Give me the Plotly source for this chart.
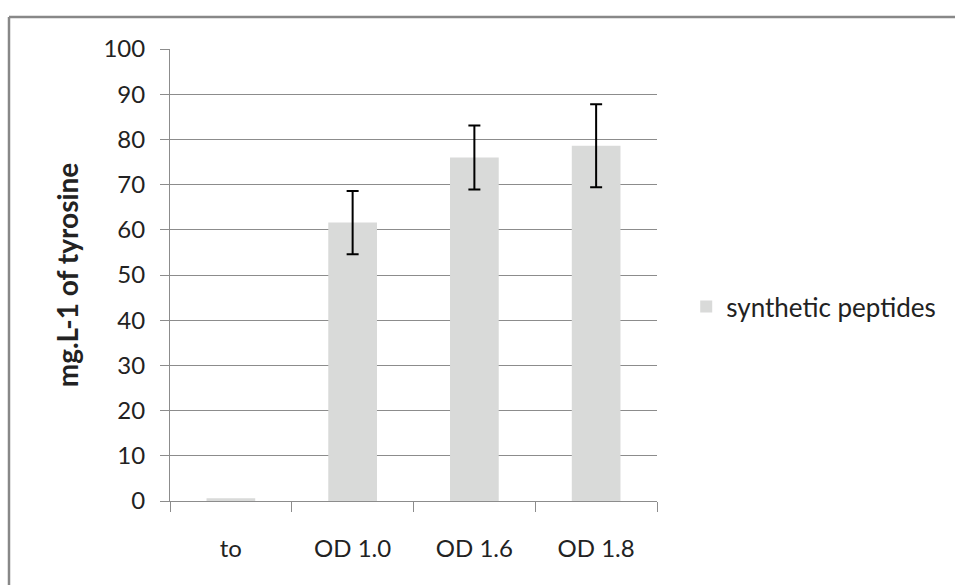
import plotly.graph_objects as go

categories = ['to', 'OD 1.0', 'OD 1.6', 'OD 1.8']
tyrosine = [0.6, 61.6, 76.0, 78.6]
tyrosine_err = [None, 7.0, 7.1, 9.2]
series_name = 'synthetic peptides'

FONT = 'Lato, Carlito, Calibri, sans-serif'
GRID = '#8c8c8c'
FRAME = '#888888'

fig = go.Figure()

fig.add_trace(go.Bar(
    x=categories,
    y=tyrosine,
    name=series_name,
    marker=dict(color='#d9dad9', line=dict(width=0)),
))

# error bars only where a value exists ('to' has none)
has_err = [i for i, e in enumerate(tyrosine_err) if e is not None]
fig.add_trace(go.Scatter(
    x=[categories[i] for i in has_err],
    y=[tyrosine[i] for i in has_err],
    mode='markers',
    marker=dict(size=1, opacity=0),
    error_y=dict(type='data', array=[tyrosine_err[i] for i in has_err],
                 visible=True, color='black', thickness=2, width=6),
    showlegend=False, hoverinfo='skip',
))

fig.update_layout(
    width=955, height=585,
    margin=dict(l=170, r=298, t=49, b=84, autoexpand=False),
    paper_bgcolor='white', plot_bgcolor='white',
    bargap=0.6,
    showlegend=True,
    font=dict(family=FONT, size=24, color='#222222'),
    legend=dict(x=1.06, y=0.43, xanchor='left', yanchor='middle',
                font=dict(size=26), bgcolor='rgba(0,0,0,0)'),
    # chart frame: only its left and top edges fall inside the picture
    shapes=[
        dict(type='line', xref='paper', yref='paper',
             x0=-0.3306, x1=-0.3306, y0=-0.3, y1=1.0708,
             line=dict(color=FRAME, width=2.5)),
        dict(type='line', xref='paper', yref='paper',
             x0=-0.3306, x1=1.8, y0=1.0708, y1=1.0708,
             line=dict(color=FRAME, width=2.5)),
    ],
)

fig.update_xaxes(
    showline=True, linecolor=GRID, linewidth=1,
    ticks='outside', tickson='boundaries', ticklen=10, tickcolor=GRID,
    showgrid=False, tickfont=dict(size=24), ticklabelstandoff=26,
)

fig.update_yaxes(
    range=[0, 100], dtick=10,
    showline=True, linecolor=GRID, linewidth=1,
    ticks='outside', ticklen=9, tickcolor=GRID,
    showgrid=True, gridcolor=GRID, gridwidth=1,
    zeroline=False, tickfont=dict(size=24), ticklabelstandoff=10,
    title=dict(text='<b>mg.L-1 of tyrosine</b>', font=dict(size=28), standoff=16),
)

# drop the default page margin and scrollbars so the figure fills the window
fig.write_html("out.html",
               config={'displayModeBar': False},
               post_script="document.body.style.margin='0';"
                           "document.body.style.overflow='hidden';")
